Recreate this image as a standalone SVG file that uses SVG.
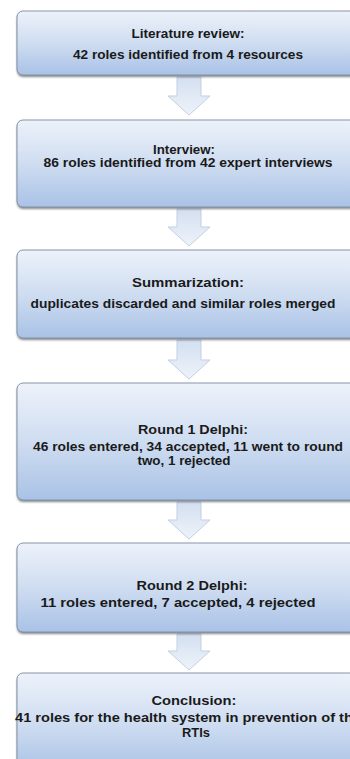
<svg xmlns="http://www.w3.org/2000/svg" width="350" height="759" viewBox="0 0 350 759">
<defs>
<linearGradient id="boxg" x1="0" y1="0" x2="0" y2="1">
<stop offset="0" stop-color="#edf2fa"/>
<stop offset="0.5" stop-color="#cfddf1"/>
<stop offset="1" stop-color="#a9c2e6"/>
</linearGradient>
<linearGradient id="arrg" x1="0" y1="0" x2="0" y2="1">
<stop offset="0" stop-color="#d3dff0"/>
<stop offset="1" stop-color="#eef3fa"/>
</linearGradient>
<filter id="sh" x="-5%" y="-10%" width="110%" height="130%">
<feGaussianBlur stdDeviation="1.2"/>
</filter>
</defs>
<style>
.bg{fill:#ffffff}
.shadow{fill:#5a5f68;opacity:0.75;filter:url(#sh)}
.box{fill:url(#boxg);stroke:#8593a8;stroke-width:1}
.arr{fill:url(#arrg);stroke:#c3cfe2;stroke-width:1}
text{font-family:"Liberation Sans",Arial,sans-serif;font-weight:bold;font-size:12.5px;fill:#1a1a1a;text-anchor:middle}
</style>
<rect class="bg" x="0" y="0" width="350" height="759"/>

<g id="connectors">
<path class="arr" d="M177,77 H201 V96 H210 L189,115 L168,96 H177 Z"/>
<path class="arr" d="M177,209 H201 V227 H210 L189,246 L168,227 H177 Z"/>
<path class="arr" d="M177,340 H201 V360 H210 L189,379 L168,360 H177 Z"/>
<path class="arr" d="M177,502 H201 V520 H210 L189,539 L168,520 H177 Z"/>
<path class="arr" d="M177,634 H201 V651 H210 L189,670 L168,651 H177 Z"/>
</g>

<g id="n1">
<rect class="shadow" x="17" y="13" width="345" height="64" rx="6"/>
<rect class="box" x="17" y="11" width="345" height="64" rx="6"/>
<text x="188" y="38" textLength="113" lengthAdjust="spacingAndGlyphs">Literature review:</text>
<text x="188" y="59" textLength="230" lengthAdjust="spacingAndGlyphs">42 roles identified from 4 resources</text>
</g>

<g id="n2">
<rect class="shadow" x="17" y="122" width="345" height="87" rx="6"/>
<rect class="box" x="17" y="120" width="345" height="87" rx="6"/>
<text x="184" y="154" textLength="62" lengthAdjust="spacingAndGlyphs">Interview:</text>
<text x="188" y="167" textLength="289" lengthAdjust="spacingAndGlyphs">86 roles identified from 42 expert interviews</text>
</g>

<g id="n3">
<rect class="shadow" x="17" y="252" width="345" height="88" rx="6"/>
<rect class="box" x="17" y="250" width="345" height="88" rx="6"/>
<text x="188" y="287" textLength="112" lengthAdjust="spacingAndGlyphs">Summarization:</text>
<text x="183" y="308" textLength="305" lengthAdjust="spacingAndGlyphs">duplicates  discarded  and similar  roles merged</text>
</g>

<g id="n4">
<rect class="shadow" x="17" y="385" width="345" height="117" rx="6"/>
<rect class="box" x="17" y="383" width="345" height="117" rx="6"/>
<text x="193" y="434" textLength="110" lengthAdjust="spacingAndGlyphs">Round 1 Delphi:</text>
<text x="188" y="451" textLength="310" lengthAdjust="spacingAndGlyphs">46 roles entered, 34 accepted, 11 went to round</text>
<text x="184" y="465" textLength="93" lengthAdjust="spacingAndGlyphs">two, 1 rejected</text>
</g>

<g id="n5">
<rect class="shadow" x="17" y="545" width="345" height="89" rx="6"/>
<rect class="box" x="17" y="543" width="345" height="89" rx="6"/>
<text x="192" y="590" textLength="111" lengthAdjust="spacingAndGlyphs">Round 2 Delphi:</text>
<text x="178" y="607" textLength="275" lengthAdjust="spacingAndGlyphs">11 roles entered, 7 accepted, 4 rejected</text>
</g>

<g id="n6">
<rect class="shadow" x="17" y="675" width="345" height="100" rx="6"/>
<rect class="box" x="17" y="673" width="345" height="100" rx="6"/>
<text x="194" y="705" textLength="85" lengthAdjust="spacingAndGlyphs">Conclusion:</text>
<text x="188" y="722" textLength="346" lengthAdjust="spacingAndGlyphs">41 roles for the health system in prevention of the</text>
<text x="196" y="737" textLength="28" lengthAdjust="spacingAndGlyphs">RTIs</text>
</g>
</svg>
